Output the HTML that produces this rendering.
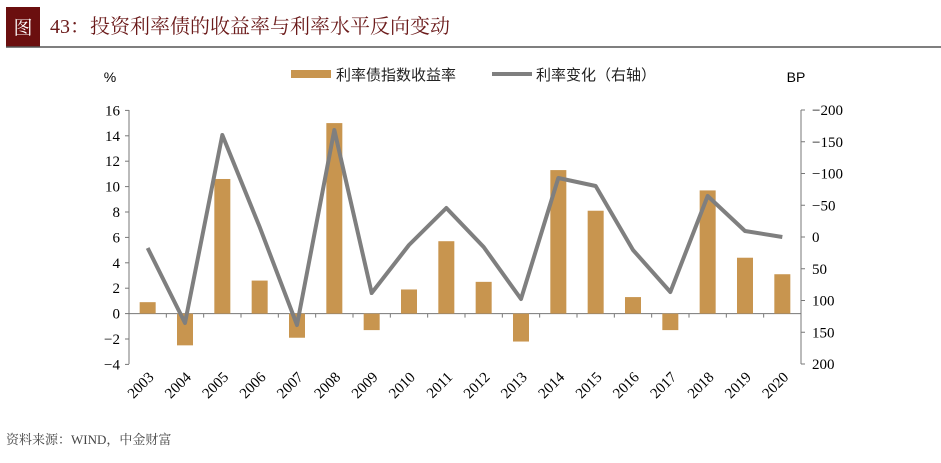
<!DOCTYPE html>
<html><head><meta charset="utf-8"><style>
body{margin:0;background:#fff;width:941px;height:458px;overflow:hidden;font-family:"Liberation Serif","Noto Serif CJK SC",serif}
</style></head><body>
<svg width="941" height="458" xmlns="http://www.w3.org/2000/svg" font-family="Liberation Serif, Noto Serif CJK SC, serif">
<rect x="6" y="7" width="34" height="40" fill="#6b0f0f"/>
<text x="23" y="34" fill="#fff" font-size="19" text-anchor="middle">图</text>
<text x="50" y="33" fill="#6b1a1a" font-size="20">43：投资利率债的收益率与利率水平反向变动</text>
<line x1="6" y1="47" x2="941" y2="47" stroke="#555" stroke-width="1.5"/>
<text x="110" y="82" font-size="14" text-anchor="middle" font-family="Liberation Sans, sans-serif">%</text>
<text x="796" y="82" font-size="14" text-anchor="middle" font-family="Liberation Sans, sans-serif">BP</text>
<rect x="291" y="70" width="40" height="8" fill="#c8954f"/>
<text x="336" y="80" font-size="15" font-family="Liberation Sans, Noto Sans CJK SC, sans-serif" fill="#222">利率债指数收益率</text>
<line x1="492" y1="74" x2="532" y2="74" stroke="#7f7f7f" stroke-width="4"/>
<text x="536" y="80" font-size="15" font-family="Liberation Sans, Noto Sans CJK SC, sans-serif" fill="#222">利率变化（右轴）</text>
<g stroke="#777" stroke-width="1" fill="none">
<line x1="129" y1="110" x2="129" y2="364"/>
<line x1="801" y1="110" x2="801" y2="364"/>
<line x1="129" y1="313.6" x2="801" y2="313.6"/>
</g>
<script>
var s=document.querySelector('svg'),ns='http://www.w3.org/2000/svg';
function el(t,a,txt){var e=document.createElementNS(ns,t);for(var k in a)e.setAttribute(k,a[k]);if(txt!=null)e.textContent=txt;s.appendChild(e);return e;}
for(var v=16;v>=-4;v-=2){var y=313.6-v*12.7;el('line',{x1:125,y1:y,x2:129,y2:y,stroke:'#777'});el('text',{x:120,y:y+5,'font-size':15,'text-anchor':'end'},v<0?'−'+(-v):v);}
for(var b=-200;b<=200;b+=50){var y=237+b*0.635;el('line',{x1:801,y1:y,x2:805,y2:y,stroke:'#777'});el('text',{x:812,y:y+5,'font-size':15},b<0?'−'+(-b):b);}
var bars=[0.9,-2.5,10.6,2.6,-1.9,15,-1.3,1.9,5.7,2.5,-2.2,11.3,8.1,1.3,-1.3,9.7,4.4,3.1];
var ly=[248,323,135,227,325,130,293,245,208,247,299,178,186,250,292,196,231,237];
var pts=[],w=37.333;
for(var i=0;i<18;i++){var cx=129+w*(i+0.5),v=bars[i],h=Math.abs(v)*12.7,y=v>0?313.6-h:313.6;
el('rect',{x:cx-8,y:y,width:16,height:h,fill:'#c8954f'});
el('line',{x1:129+w*(i+1),y1:313.6,x2:129+w*(i+1),y2:317.6,stroke:'#777'});
pts.push(cx+','+ly[i]);
el('text',{x:cx+7,y:378,'font-size':15,'text-anchor':'end',transform:'rotate(-45 '+(cx+7)+' 378)'},2003+i);}
el('polyline',{points:pts.join(' '),fill:'none',stroke:'#7f7f7f','stroke-width':4,'stroke-linejoin':'round'});
el('text',{x:6,y:444,'font-size':13,fill:'#444'},'资料来源：WIND，中金财富');
</script>
</svg>
</body></html>
